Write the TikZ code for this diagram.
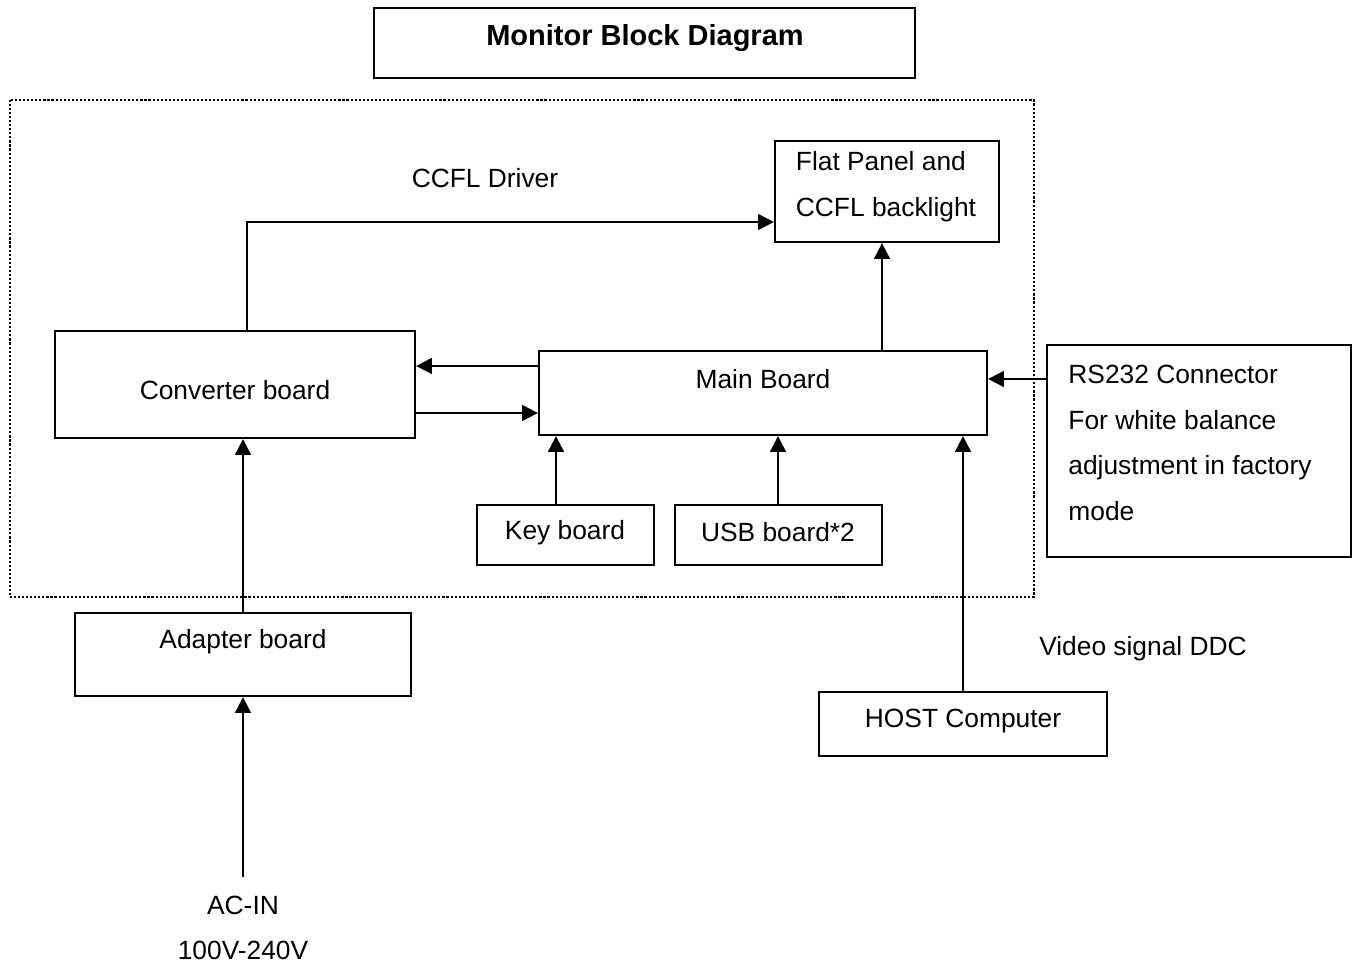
\documentclass[tikz,border=0pt]{standalone}
\usepackage{fontspec}
\setmainfont{Liberation Sans}
\usepackage{tikz}
\usetikzlibrary{arrows.meta,fit,calc}

\begin{document}
\begin{tikzpicture}[x=0.02cm, y=-0.02cm,
  every node/.style={font=\fontsize{15}{26}\selectfont},
  box/.style={draw, rectangle, line width=1.3pt, inner sep=0pt},
  tnode/.style={draw=none, inner sep=0pt},
  arr/.style={line width=1.2pt, -{Triangle[length=9pt,width=9pt]}},
  frame/.style={line width=1.2pt, dash pattern=on 1.2pt off 1.1pt}]

  \useasboundingbox (0,0) rectangle (1358,966);

  % title
  \node (title) [box, fit={(374,8) (915,78)}] {};
  \node [tnode, font=\fontsize{16.5}{20}\selectfont\bfseries] at (645,38) {Monitor Block Diagram};

  % monitor enclosure
  \draw [frame] (10,100) rectangle (1034,597);

  % boards
  \node (flat) [box, fit={(775,141) (999,242)}] {};
  \node [tnode, align=left] at (886,187) {Flat Panel and\\CCFL backlight};
  \node (conv) [box, fit={(55,331) (415,438)}] {};
  \node [tnode] at (235,390) {Converter board};
  \node (main) [box, fit={(539,351) (987,435)}] {};
  \node [tnode] at (763,379) {Main Board};
  \node (key) [box, fit={(477,505) (654,565)}] {};
  \node [tnode] at (565,533) {Key board};
  \node (usb) [box, fit={(675,505) (882,565)}] {};
  \node [tnode] at (778,532) {USB board*2};
  \node (rs) [box, fit={(1047,345) (1351,557)}] {};
  \node [tnode, align=left] at (1190,443) {RS232 Connector\\For white balance\\adjustment in factory\\mode};
  \node (adapt) [box, fit={(75,613) (411,696)}] {};
  \node [tnode] at (243,642) {Adapter board};
  \node (host) [box, fit={(819,692) (1107,756)}] {};
  \node [tnode] at (963,721) {HOST Computer};

  % free texts
  \node (ccfl) [tnode] at (485,178) {CCFL Driver};
  \node (ddc) [tnode] at (1143,649) {Video signal DDC};
  \node (acin) [tnode, align=center] at (243,928) {AC-IN\\100V-240V};
  \coordinate (acend) at (243,877);

  % connections
  \draw [arr] (conv.north -| 247,0) |- (flat.west |- 0,222);
  \draw [arr] (main.north -| 882,0) -- (flat.south -| 882,0);
  \draw [arr] (main.west |- 0,366) -- (conv.east |- 0,366);
  \draw [arr] (conv.east |- 0,413) -- (main.west |- 0,413);
  \draw [arr] (key.north -| 556,0) -- (main.south -| 556,0);
  \draw [arr] (usb.north -| 778,0) -- (main.south -| 778,0);
  \draw [arr] (rs.west |- 0,379) -- (main.east |- 0,379);
  \draw [arr] (host.north -| 963,0) -- (main.south -| 963,0);
  \draw [arr] (adapt.north -| 243,0) -- (conv.south -| 243,0);
  \draw [arr] (acend) -- (adapt.south -| 243,0);
\end{tikzpicture}
\end{document}
